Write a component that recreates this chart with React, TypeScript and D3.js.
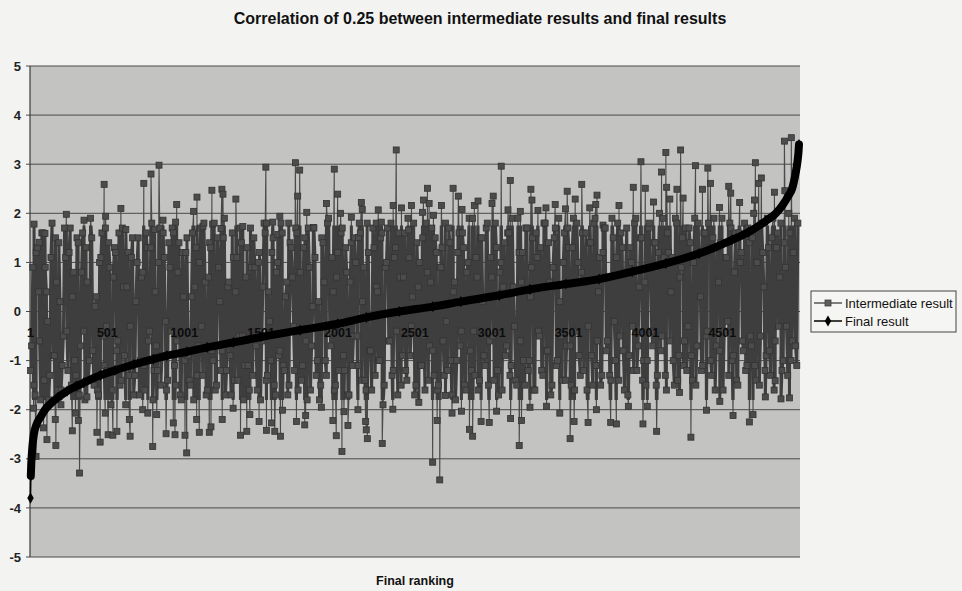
import React from "react";
import * as d3 from "d3";

const TITLE = "Correlation of 0.25 between intermediate results and final results";
const X_TITLE = "Final ranking";
const Y_TICKS = [5, 4, 3, 2, 1, 0, -1, -2, -3, -4, -5];
const X_TICK_LABELS = [1, 501, 1001, 1501, 2001, 2501, 3001, 3501, 4001, 4501];
const N_RANKS = 5000;
const SERIES_NAMES = ["Intermediate result", "Final result"];

// Final result (sorted), read at ranks along the curve
const finalRanks = [1, 3, 6, 12, 23, 40, 66, 100, 131, 180, 239, 300, 347, 455, 550, 672, 800, 888, 1018, 1150, 1321, 1500, 1754, 2000, 2186, 2400, 2618, 2800, 3051, 3250, 3484, 3700, 3915, 4133, 4350, 4565, 4673, 4782, 4850, 4890, 4930, 4955, 4977, 4990, 4996, 5000];
const finalValues = [-3.8, -3.35, -3.1, -2.8, -2.5, -2.3, -2.15, -1.98, -1.88, -1.75, -1.62, -1.52, -1.45, -1.3, -1.2, -1.08, -0.97, -0.9, -0.82, -0.73, -0.63, -0.52, -0.38, -0.25, -0.12, 0.0, 0.1, 0.2, 0.33, 0.45, 0.56, 0.66, 0.81, 0.98, 1.18, 1.46, 1.62, 1.84, 2.0, 2.15, 2.35, 2.5, 2.8, 3.05, 3.22, 3.4];

// Intermediate result: visible upper spikes
const upperRanks = [24, 58, 95, 234, 349, 480, 490, 589, 621, 738, 785, 809, 837, 863, 945, 952, 1062, 1084, 1123, 1181, 1186, 1240, 1246, 1253, 1337, 1382, 1532, 1537, 1577, 1610, 1623, 1681, 1724, 1739, 1752, 1798, 1841, 1926, 1977, 1999, 2018, 2088, 2135, 2153, 2159, 2250, 2263, 2283, 2360, 2380, 2414, 2460, 2479, 2551, 2557, 2583, 2594, 2622, 2674, 2750, 2784, 2808, 2888, 2912, 3003, 3011, 3063, 3107, 3122, 3187, 3256, 3263, 3302, 3354, 3414, 3481, 3492, 3544, 3587, 3639, 3678, 3686, 3725, 3829, 3922, 3972, 4000, 4054, 4106, 4134, 4139, 4160, 4206, 4230, 4246, 4327, 4372, 4407, 4424, 4483, 4543, 4556, 4614, 4710, 4716, 4738, 4755, 4840, 4905, 4908, 4950];
const upperValues = [1.78, 1.41, 1.59, 1.98, 1.86, 2.59, 1.94, 2.1, 1.67, 2.61, 2.8, 1.67, 2.98, 1.86, 1.82, 2.18, 2.04, 2.33, 1.73, 2.47, 1.78, 1.69, 2.49, 2.39, 2.29, 1.73, 2.94, 1.8, 1.82, 1.57, 1.94, 1.8, 3.03, 2.35, 2.88, 2.02, 1.71, 2.2, 2.9, 2.39, 2.0, 1.92, 1.51, 2.22, 2.08, 1.8, 2.07, 1.82, 2.16, 3.29, 2.11, 1.66, 2.16, 2.02, 2.27, 2.51, 2.2, 1.96, 2.16, 2.51, 2.35, 2.08, 2.16, 2.25, 2.2, 2.35, 2.96, 2.07, 2.67, 2.04, 2.49, 2.27, 2.06, 2.11, 2.18, 2.09, 2.45, 2.29, 2.59, 2.11, 2.18, 2.37, 1.76, 2.16, 2.53, 3.05, 2.51, 2.23, 2.84, 3.24, 2.53, 2.29, 2.49, 3.29, 2.31, 2.97, 2.49, 2.92, 2.61, 2.12, 2.55, 2.41, 2.22, 2.27, 3.03, 2.61, 2.72, 2.43, 3.47, 2.46, 3.54];

// Intermediate result: visible lower spikes
const lowerRanks = [21, 37, 86, 108, 162, 166, 199, 273, 294, 312, 320, 368, 433, 454, 487, 506, 537, 563, 644, 649, 731, 764, 796, 822, 883, 930, 941, 1006, 1017, 1082, 1099, 1164, 1175, 1248, 1319, 1367, 1408, 1428, 1488, 1536, 1569, 1590, 1627, 1640, 1731, 1785, 1791, 1893, 1968, 1990, 2027, 2040, 2066, 2131, 2181, 2185, 2192, 2289, 2358, 2527, 2617, 2646, 2663, 2700, 2743, 2804, 2856, 2877, 2932, 2985, 3033, 3124, 3180, 3195, 3250, 3358, 3444, 3511, 3537, 3628, 3682, 3775, 3812, 3890, 3985, 4013, 4074, 4223, 4297, 4398, 4485, 4571, 4677, 4701, 4781, 4845, 4883, 4938];
const lowerValues = [-1.97, -2.95, -2.37, -2.61, -2.2, -2.73, -1.9, -2.43, -2.07, -2.22, -3.29, -1.74, -2.46, -2.66, -2.07, -2.51, -2.52, -2.44, -2.2, -2.54, -2.0, -2.07, -2.75, -2.1, -2.49, -2.27, -2.51, -2.52, -2.88, -2.2, -2.46, -2.46, -2.35, -2.2, -1.97, -2.52, -2.44, -2.1, -2.24, -2.42, -2.27, -2.44, -2.54, -2.01, -2.24, -2.31, -2.12, -1.95, -2.22, -2.53, -2.85, -2.04, -2.32, -2.0, -2.24, -2.41, -2.59, -2.69, -1.99, -1.85, -3.07, -2.22, -3.43, -1.71, -2.07, -2.03, -2.4, -2.54, -2.24, -2.26, -2.03, -2.18, -2.73, -2.22, -1.95, -1.93, -2.07, -2.59, -2.24, -2.26, -2.0, -2.26, -2.29, -1.93, -2.29, -1.93, -2.44, -1.65, -2.56, -2.01, -1.83, -2.12, -2.25, -2.1, -1.74, -1.41, -1.78, -1.76];

// Intermediate result: the dense band of values in between (read in rank order)
const bandValues = [
  -1.2, 0.9, -1.7, 1.3, -0.6, 1.6, -1.4, 0.4, -1.8, 1.1, -0.9, 1.5, -1.6, 0.2, -1.1, 1.7, -0.4, 1.2, -1.5, 0.8,
  -1.3, 1.4, -0.7, 1.6, -1.8, 0.6, -1.0, 1.5, -1.5, 0.3, -1.7, 1.1, -0.5, 1.7, -1.2, 0.9, -1.6, 1.3, -0.8, 1.6,
  -1.4, 0.5, -1.9, 1.2, -0.3, 1.5, -1.3, 1.0, -1.7, 0.7, -1.1, 1.6, -0.6, 1.3, -1.8, 0.4, -1.2, 1.7, -0.9, 1.1,
  -1.6, 1.4, -0.4, 1.6, -1.5, 0.8, -1.7, 1.2, -1.0, 1.5, -1.4, 0.3, -1.8, 1.3, -0.7, 1.7, -1.3, 0.6, -1.6, 1.4,
  -0.8, 1.8, -1.5, 0.9, -1.2, 1.5, -1.7, 0.5, -0.9, 1.6, -1.4, 1.1, -0.5, 1.4, -1.8, 0.7, -1.1, 1.7, -1.3, 0.9,
  -1.6, 1.2, -0.6, 1.8, -1.4, 0.4, -1.0, 1.5, -1.7, 1.0, -0.8, 1.6, -1.2, 0.6, -1.5, 1.3, -0.3, 1.7, -1.6, 0.8,
  -1.1, 1.5, -1.8, 0.9, -0.7, 1.7, -1.3, 0.2, -1.5, 1.4, -1.0, 1.8, -0.4, 1.1, -1.6, 0.7, -1.2, 1.6, -0.9, 1.3,
  -1.7, 0.6, -1.1, 1.5, -0.5, 1.8, -1.4, 0.9, -1.6, 1.2, -0.8, 1.7, -1.3, 0.4, -1.0, 1.6, -1.5, 1.0, -0.6, 1.8,
  -1.2, 1.3, -1.7, 0.7, -0.9, 1.6, -1.4, 1.1, -0.3, 1.8, -1.5, 0.5, -1.1, 1.5, -1.6, 0.8, -0.7, 1.7, -1.3, 1.2,
  -1.5, 0.9, -0.6, 1.8, -1.2, 1.4, -1.7, 0.6, -1.0, 1.6, -0.4, 1.3, -1.6, 1.0, -0.8, 1.9, -1.3, 0.7, -1.4, 1.5,
  -0.9, 1.7, -1.5, 1.1, -0.5, 1.8, -1.2, 0.8, -1.6, 1.4, -0.7, 1.6, -1.1, 0.5, -1.4, 1.9, -0.6, 1.2, -1.5, 1.7,
  -1.0, 0.9, -1.6, 1.6, -0.4, 1.3, -1.3, 1.8, -0.8, 0.6, -1.5, 1.5, -1.1, 1.9, -0.5, 1.0, -1.4, 1.7, -0.7, 1.3,
  -1.6, 1.8, -0.9, 0.8, -1.2, 1.6, -0.3, 1.4, -1.5, 1.9, -0.6, 1.1, -1.3, 1.7, -0.8, 0.7, -1.4, 1.5, -1.0, 1.8,
  -0.5, 1.3, -1.6, 1.7, -0.9, 1.0, -1.2, 1.9, -0.7, 1.5, -1.4, 0.6, -1.0, 1.8, -0.4, 1.4, -1.5, 1.2, -0.8, 1.9,
  -1.3, 1.6, -0.6, 1.1, -1.5, 1.8, -0.9, 0.9, -1.1, 1.7, -0.3, 1.4, -1.4, 1.9, -0.7, 1.2, -1.2, 1.6, -0.5, 1.8,
  -1.0, 1.5, -1.6, 1.3, -0.8, 1.9, -0.4, 1.1, -1.3, 1.7, -0.9, 1.6, -1.5, 1.0, -0.6, 1.8, -1.1, 1.4, -0.7, 2.0,
  -1.4, 1.7, -0.5, 1.2, -1.2, 1.9, -0.8, 1.5, -1.6, 1.3, -0.3, 1.8, -1.0, 0.9, -1.3, 1.6, -0.6, 1.9, -1.1, 1.5,
];

// Intermediate result: a second pass over the band, read between the first
const bandValues2 = [
  -0.7, -1.5, 1.2, 0.4, -1.8, 1.6, 0.9, -0.2, -1.3, 1.8, -0.9, 0.6, 1.4, -1.6, -0.5, 1.1, -1.2, 1.7, 0.3, -1.0,
  1.5, -1.7, 0.8, -0.4, 1.3, -1.4, 1.9, -0.8, 0.1, -1.6, 1.0, 1.6, -1.1, -0.3, 1.4, -1.9, 0.7, 1.2, -0.6, -1.5,
  1.7, -0.9, 0.5, -1.3, 1.1, -1.7, 0.2, 1.5, -1.0, 0.8, -1.6, 1.3, -0.4, 1.8, -1.2, -0.7, 1.0, -1.5, 1.6, -0.2,
  -1.4, 0.9, 1.7, -1.1, -0.6, 1.4, -1.8, 0.3, 1.2, -0.9, -1.5, 1.6, 0.5, -1.3, 1.0, -0.3, 1.8, -1.7, 0.7, 1.3,
  -1.0, -1.6, 1.5, 0.2, -0.8, 1.9, -1.2, 0.6, -1.7, 1.1, 0.4, -1.4, 1.7, -0.5, -1.1, 1.3, -1.6, 0.9, 1.5, -0.7,
  1.0, -1.8, 0.5, 1.6, -1.3, -0.2, 1.2, -1.5, 0.8, -0.9, 1.8, -1.1, 0.3, -1.7, 1.4, 0.7, -1.2, 1.6, -0.4, -1.4,
  1.3, -0.6, 1.7, -1.6, 0.1, 1.1, -1.0, -1.8, 1.5, 0.6, -1.3, 1.9, -0.7, 0.4, -1.5, 1.2, -0.3, 1.7, -1.2, 0.8,
  -1.7, 1.4, -0.5, 1.0, -1.1, 1.6, 0.2, -1.4, 1.8, -0.8, -1.6, 1.3, 0.5, -1.0, 1.5, -1.9, 0.9, 1.7, -0.6, -1.3,
  1.1, -0.4, 1.6, -1.5, 0.7, -1.2, 1.9, -0.9, 0.3, -1.7, 1.4, 1.0, -1.1, -0.5, 1.8, -1.4, 0.6, -0.8, 1.5, -1.6,
  0.9, 1.3, -1.3, -0.2, 1.7, -1.0, 0.4, -1.8, 1.2, -0.7, 1.6, -1.5, 0.8, 1.9, -1.2, -0.4, 1.1, -1.6, 1.5, 0.2,
  -1.1, 1.8, -0.6, 0.7, -1.4, 1.3, -1.7, 1.0, 0.5, -0.9, 1.6, -1.3, 1.9, -0.3, -1.5, 1.2, 0.6, -1.0, 1.7, -1.2,
  0.3, 1.5, -1.6, 1.1, -0.5, -1.2, 1.8, -0.8, 1.4, -1.7, 0.9, 1.7, -1.0, 0.2, -1.4, 1.6, -0.7, 1.3, -1.5, 1.9,
  -0.4, 1.0, -1.3, 1.6, 0.6, -1.6, 1.4, -0.9, 1.8, -1.1, 0.4, -1.5, 1.2, 1.7, -0.6, -1.3, 1.9, -0.2, 1.1, -1.4,
  1.6, -0.8, 0.8, -1.7, 1.3, -0.3, 1.8, -1.2, 0.5, 1.5, -1.0, -1.5, 1.7, 0.9, -0.7, 1.4, -1.3, 2.0, -0.5, 1.1,
  -1.6, 1.2, 0.4, -1.0, 1.9, -1.4, 0.7, 1.5, -0.6, -1.2, 1.7, -0.9, 1.0, -1.5, 1.8, 0.3, -1.1, 1.6, -0.4, 1.3,
  -1.3, 1.9, -0.7, 0.6, 1.4, -1.6, 1.1, -0.2, 1.8, -1.0, 0.8, -1.4, 1.6, 1.2, -0.8, -1.2, 1.7, -0.5, 1.5, -1.1,
  1.0, -1.5, 1.8, 0.5, -0.9, 1.3, -1.3, 1.9, -0.6, 1.6, 0.7, -1.2, 1.4, -0.3, 2.0, -1.0, 1.2, -0.7, 1.8, 1.5,
];

type Pt = { r: number; v: number };

export default function App() {
  const W = 962;
  const H = 591;
  const left = 30;
  const right = 800;
  const top = 66;
  const bottom = 557;

  const x = d3.scaleLinear().domain([1, N_RANKS]).range([left + 0.5, right - 1]);
  const y = d3.scaleLinear().domain([-5, 5]).range([bottom, top]);

  const step1 = (N_RANKS - 1) / (bandValues.length - 1);
  const step2 = (N_RANKS - 1) / (bandValues2.length - 1);
  const inter: Pt[] = [
    ...upperRanks.map((r, i) => ({ r, v: upperValues[i] })),
    ...lowerRanks.map((r, i) => ({ r, v: lowerValues[i] })),
    ...bandValues.map((v, i) => ({ r: 1 + i * step1 + 0.3, v })),
    ...bandValues2.map((v, i) => ({ r: 1 + i * step2 + step2 / 2, v })),
  ]
    .filter((d) => d.r <= N_RANKS)
    .sort((a, b) => a.r - b.r);

  const fin: Pt[] = finalRanks.map((r, i) => ({ r, v: finalValues[i] }));

  const line = d3
    .line<Pt>()
    .x((d) => x(d.r))
    .y((d) => y(d.v));
  const smooth = d3
    .line<Pt>()
    .x((d) => x(d.r))
    .y((d) => y(d.v))
    .curve(d3.curveMonotoneX);
  const diamond = d3.symbol().type(d3.symbolDiamond).size(36)() as string;
  const font = "'Liberation Sans', Arial, sans-serif";
  const interPath = line(inter) || "";

  const legX = 811;
  const legY = 291;

  return (
    <svg
      width={W}
      height={H}
      style={{ position: "absolute", left: 0, top: 0, background: "#f3f3f1" }}
      fontFamily={font}
    >
      <defs>
        <clipPath id="bandClip">
          <rect x={left} y={y(1.75)} width={right - left} height={y(-1.8) - y(1.75)} />
        </clipPath>
      </defs>
      <rect x={0} y={0} width={W} height={H} fill="#f3f3f1" />
      <text x={480} y={24} textAnchor="middle" fontSize={16} fontWeight="bold" fill="#111">
        {TITLE}
      </text>

      {/* plot area */}
      <rect x={left} y={top} width={right - left} height={bottom - top} fill="#c3c3c1" />
      {Y_TICKS.map((t) => (
        <line key={"g" + t} x1={left - 4} x2={right} y1={y(t)} y2={y(t)} stroke="#4a4a4a" strokeWidth={1} />
      ))}
      <line x1={left} x2={left} y1={top} y2={bottom} stroke="#3a3a3a" strokeWidth={1.2} />
      {Y_TICKS.map((t) => (
        <text key={"yl" + t} x={21} y={y(t)} dy="0.36em" textAnchor="end" fontSize={13} fontWeight="bold" fill="#222">
          {t}
        </text>
      ))}

      {/* intermediate series: thin connector everywhere, overlapping strokes inside the dense band */}
      <path d={interPath} fill="none" stroke="#4a4a4a" strokeWidth={1.1} />
      <path
        d={interPath}
        fill="none"
        stroke="#3e3e3e"
        strokeWidth={3}
        strokeLinejoin="round"
        clipPath="url(#bandClip)"
      />
      {inter.map((d, i) => (
        <rect
          key={"m" + i}
          x={x(d.r) - 3}
          y={y(d.v) - 3}
          width={6}
          height={6}
          fill="#4c4c4c"
          stroke="#333"
          strokeWidth={0.8}
        />
      ))}

      {/* category labels at y = 0 */}
      {X_TICK_LABELS.map((t) => (
        <text key={"xl" + t} x={x(t)} y={y(0) + 25} textAnchor="middle" fontSize={12.5} fontWeight="bold" fill="#0c0c0c">
          {t}
        </text>
      ))}

      {/* final series */}
      <path d={line(fin.slice(0, 2)) || ""} fill="none" stroke="#000" strokeWidth={1.5} />
      <path
        d={smooth(fin.slice(1)) || ""}
        fill="none"
        stroke="#000"
        strokeWidth={8}
        strokeLinejoin="round"
        strokeLinecap="round"
      />
      {fin.map((d, i) => (
        <path key={"f" + i} d={diamond} transform={`translate(${x(d.r)},${y(d.v)})`} fill="#000" />
      ))}

      <text x={(left + right) / 2} y={585} textAnchor="middle" fontSize={12.5} fontWeight="bold" fill="#111">
        {X_TITLE}
      </text>

      {/* legend */}
      <rect x={legX} y={legY} width={145} height={41} fill="#f5f5f3" stroke="#444" strokeWidth={1} />
      <line x1={legX + 3} x2={legX + 31} y1={legY + 12} y2={legY + 12} stroke="#565656" strokeWidth={1.5} />
      <rect x={legX + 14} y={legY + 9} width={6} height={6} fill="#5e5e5e" stroke="#3c3c3c" strokeWidth={0.8} />
      <text x={legX + 34} y={legY + 12} dy="0.36em" fontSize={13} fill="#111">
        {SERIES_NAMES[0]}
      </text>
      <line x1={legX + 3} x2={legX + 31} y1={legY + 30} y2={legY + 30} stroke="#000" strokeWidth={1.5} />
      <path d={diamond} transform={`translate(${legX + 17},${legY + 30})`} fill="#000" />
      <text x={legX + 34} y={legY + 30} dy="0.36em" fontSize={13} fill="#111">
        {SERIES_NAMES[1]}
      </text>
    </svg>
  );
}
